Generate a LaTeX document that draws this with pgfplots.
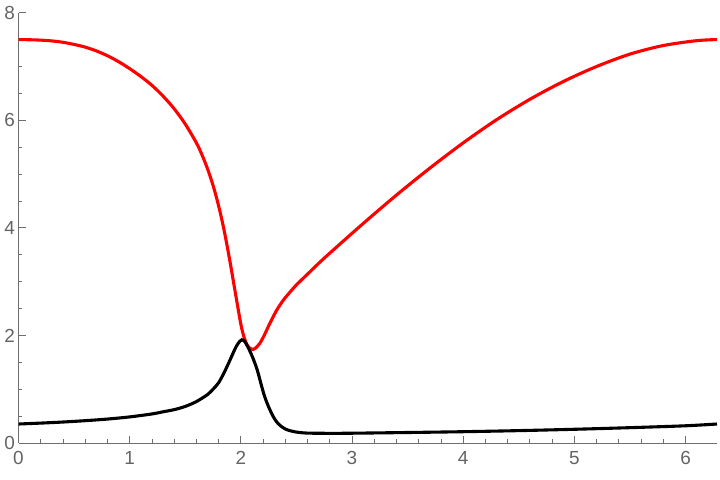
\documentclass[border=0pt]{standalone}
\usepackage{fontspec}
\setmainfont{Liberation Sans}
\usepackage{pgfplots}
\pgfplotsset{compat=1.18}
\definecolor{axisgray}{RGB}{110,110,110}
\definecolor{labelgray}{RGB}{100,100,100}
\begin{document}
\begin{tikzpicture}
\begin{axis}[
  anchor=south west, at={(0,0)},
  scale only axis, width=698.5bp, height=430.3bp,
  xmin=0, xmax=6.28319, ymin=0, ymax=8,
  axis lines=left,
  axis line style={-, draw=axisgray, line width=1bp},
  xtick={0,1,2,3,4,5,6}, ytick={0,2,4,6,8},
  minor x tick num=4, minor y tick num=3,
  tick align=inside, major tick length=7bp, minor tick length=3.5bp,
  every tick/.style={draw=axisgray, line width=0.8bp},
  tick label style={font=\fontsize{19}{22}\selectfont, text=labelgray},
  xticklabel style={yshift=-5bp},
  /pgf/number format/assume math mode=true,
]
\addplot[red, line width=3.1bp, smooth, tension=0.5] coordinates {
(0,7.50) (0.1,7.497) (0.2,7.49) (0.3,7.475) (0.4,7.45) (0.5,7.41)
(0.6,7.36) (0.7,7.29) (0.8,7.20) (0.9,7.09) (1.0,6.96) (1.1,6.815)
(1.2,6.65) (1.3,6.45) (1.4,6.215) (1.5,5.93) (1.6,5.58) (1.65,5.36)
(1.7,5.10) (1.75,4.79) (1.8,4.41) (1.85,3.95) (1.9,3.40) (1.95,2.80)
(2.0,2.21) (2.03,1.96) (2.06,1.81) (2.09,1.75) (2.11,1.74) (2.13,1.76)
(2.17,1.85) (2.21,2.00) (2.26,2.22) (2.32,2.46) (2.38,2.65) (2.44,2.80)
(2.50,2.94) (2.6,3.14) (2.7,3.34) (2.8,3.53) (3.1,4.08) (3.4,4.61)
(3.7,5.11) (4.0,5.58) (4.3,6.01) (4.6,6.39) (4.9,6.72) (5.2,7.00)
(5.5,7.23) (5.8,7.39) (6.1,7.48) (6.28319,7.50)
};
\addplot[black, line width=3.1bp, smooth, tension=0.5] coordinates {
(0,0.353) (0.2,0.37) (0.4,0.39) (0.6,0.415) (0.8,0.445) (1.0,0.485)
(1.2,0.54) (1.3,0.58) (1.4,0.62) (1.5,0.68) (1.6,0.77) (1.7,0.90)
(1.75,1.00) (1.8,1.12) (1.85,1.31) (1.9,1.53) (1.93,1.67) (1.96,1.80)
(1.99,1.89) (2.01,1.92) (2.03,1.90) (2.06,1.80) (2.09,1.67) (2.12,1.52)
(2.15,1.34) (2.18,1.11) (2.21,0.89) (2.24,0.72) (2.27,0.58) (2.30,0.46)
(2.34,0.35) (2.40,0.26) (2.48,0.21) (2.59,0.185) (2.8,0.18) (3.0,0.182)
(3.5,0.195) (4.0,0.21) (4.5,0.23) (5.0,0.255) (5.5,0.285) (6.0,0.32)
(6.28319,0.353)
};
\end{axis}
\pgfresetboundingbox
\path[use as bounding box] (-18.5bp,-37bp) rectangle (701.5bp,443bp);
\end{tikzpicture}
\end{document}
